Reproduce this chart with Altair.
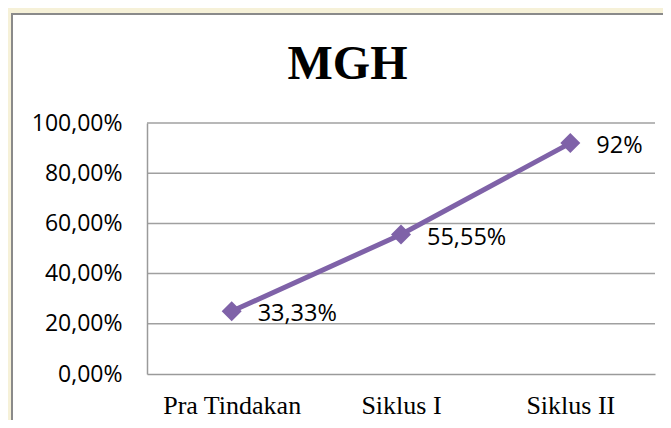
import altair as alt
import pandas as pd

categories = ["Pra Tindakan", "Siklus I", "Siklus II"]
values = [25.0, 55.55, 92.0]
point_labels = ["33,33%", "55,55%", "92%"]
y_ticks = [0, 20, 40, 60, 80, 100]
title_text = "MGH"

df = pd.DataFrame({"cat": categories, "val": values, "lab": point_labels})
grid_df = pd.DataFrame({"val": y_ticks[1:]})

W, H = 508, 251
PURPLE = "#7f62a8"

x_enc = alt.X("cat:N", sort=categories,
              scale=alt.Scale(type="point", padding=0.5),
              axis=alt.Axis(title=None, labelAngle=0, ticks=False,
                            labelFont="Liberation Serif", labelFontSize=26,
                            labelColor="black", labelPadding=18,
                            domainColor="#9a9a9a", domainWidth=1.5,
                            grid=False, zindex=1))
y_scale = alt.Scale(domain=[0, 100], nice=False)
y_axis = alt.Axis(title=None, values=y_ticks, ticks=False,
                  labelExpr="replace(format(datum.value, '.2f'), '.', ',') + '%'",
                  labelFont="Open Sans", labelFontSize=23,
                  labelColor="black", labelPadding=25,
                  domainColor="#9a9a9a", domainWidth=1.5,
                  grid=False, zindex=1)
y_enc = alt.Y("val:Q", scale=y_scale, axis=y_axis)

frame = alt.Chart(df).mark_rect(fill="white", stroke="#8a8a8a", strokeWidth=2).encode(
    x=alt.value(-135), x2=alt.value(W + 40),
    y=alt.value(-109), y2=alt.value(H + 80)
)

grid = alt.Chart(grid_df).mark_rule(color="#a0a0a0", strokeWidth=1.5).encode(
    y=y_enc,
    x=alt.value(0), x2=alt.value(W)
)

base = alt.Chart(df).encode(x=x_enc, y=y_enc)

line = base.mark_line(color=PURPLE, strokeWidth=5)
pts = base.mark_point(shape="diamond", filled=True, size=400, color=PURPLE, opacity=1)
labels = base.mark_text(align="left", baseline="middle", dx=26, dy=3,
                        font="Open Sans", fontSize=23.5, color="black").encode(text="lab:N")

title = alt.Chart(pd.DataFrame({"t": [title_text]})).mark_text(
    font="Liberation Serif", fontSize=48, fontWeight="bold", color="black",
    align="center", baseline="alphabetic"
).encode(text="t:N", x=alt.value(200.5), y=alt.value(-44))

chart = alt.layer(frame, grid, line, pts, labels, title).properties(
    width=W, height=H,
    autosize=alt.AutoSizeParams(type="none"),
    padding={"left": 139, "top": 115, "right": 8, "bottom": 46},
    background="#f6f1d8"
).configure_view(stroke=None)

chart.save("out.html", embed_options={"renderer": "svg", "actions": False})
